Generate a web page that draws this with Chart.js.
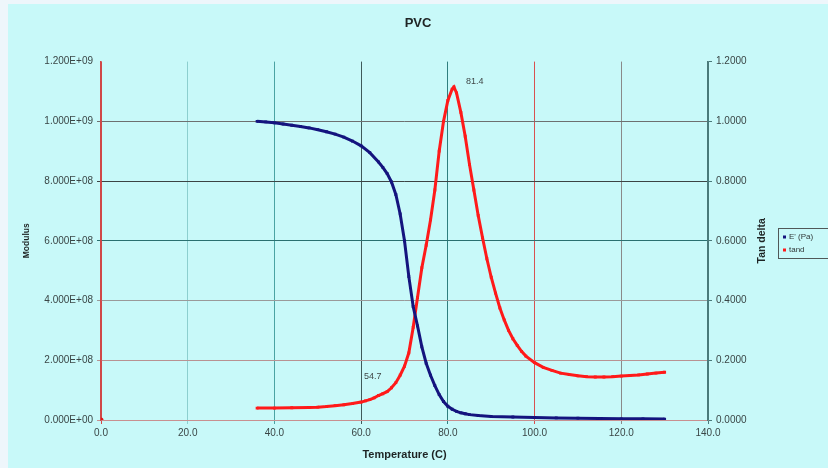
<!DOCTYPE html>
<html>
<head>
<meta charset="utf-8">
<script src="https://cdn.jsdelivr.net/npm/chart.js@4/dist/chart.umd.min.js"></script>
<style>
  html, body { margin: 0; padding: 0; background: #eef6fb; }
  #wrap { width: 828px; height: 468px; position: relative; }
</style>
</head>
<body>
<div id="wrap"><canvas id="pvc"></canvas></div>
<script>
// storage modulus E' (Pa) vs temperature
const tempE = [36, 38, 40, 42, 44, 46, 48, 50, 52, 54, 56, 58, 60, 62, 64, 65, 66, 67, 68, 69, 70, 71, 72, 73, 74, 75, 76, 77, 78, 79, 80, 81, 82, 83, 84, 85, 87, 90, 95, 100, 105, 110, 115, 120, 125, 130];
const modulus = [1.000e9, 0.998e9, 0.995e9, 0.991e9, 0.987e9, 0.983e9, 0.978e9, 0.972e9, 0.965e9, 0.957e9, 0.947e9, 0.934e9, 0.918e9, 0.895e9, 0.864e9, 0.846e9, 0.825e9, 0.797e9, 0.755e9, 0.690e9, 0.600e9, 0.480e9, 0.380e9, 0.315e9, 0.245e9, 0.190e9, 0.150e9, 0.115e9, 0.085e9, 0.062e9, 0.046e9, 0.036e9, 0.029e9, 0.024e9, 0.021e9, 0.018e9, 0.015e9, 0.012e9, 0.010e9, 0.008e9, 0.007e9, 0.006e9, 0.005e9, 0.004e9, 0.004e9, 0.003e9];

// tan delta vs temperature
const tempTan = [36, 40, 44, 48, 50, 52, 54, 56, 58, 60, 61, 62, 63, 64, 65, 66, 67, 68, 69, 70, 71, 72, 73, 74, 75, 76, 77, 78, 79, 80, 81, 81.4, 82, 83, 84, 85, 86, 87, 88, 89, 90, 91, 92, 93, 94, 95, 96, 97, 98, 100, 102, 104, 106, 108, 110, 112, 114, 116, 118, 120, 122, 124, 126, 128, 130];
const tanDelta = [0.040, 0.040, 0.041, 0.042, 0.043, 0.045, 0.048, 0.051, 0.055, 0.060, 0.064, 0.068, 0.074, 0.082, 0.088, 0.095, 0.108, 0.125, 0.150, 0.180, 0.225, 0.310, 0.410, 0.510, 0.585, 0.670, 0.770, 0.900, 1.000, 1.070, 1.108, 1.115, 1.095, 1.030, 0.950, 0.855, 0.770, 0.685, 0.610, 0.540, 0.478, 0.425, 0.375, 0.335, 0.300, 0.272, 0.250, 0.230, 0.214, 0.192, 0.176, 0.166, 0.157, 0.152, 0.148, 0.145, 0.144, 0.144, 0.145, 0.147, 0.149, 0.151, 0.154, 0.157, 0.160];

// stray marker at the origin
const originMark = [{ x: 0, y: 0 }];

// peak / onset labels placed at (temperature, tan delta)
const peakLabels = [
  { text: "54.7", x: 62.7, y: 0.147 },
  { text: "81.4", x: 86.2, y: 1.132 },
];

const xTicks = [0, 20, 40, 60, 80, 100, 120, 140];
const xGridColors = ["#d04848", "#8ccfcf", "#4aa3a3", "#3f5a5a", "#2f7f7f", "#d85050", "#8a8a8a", "#4a7a7a"];
const yGridColors = ["#c89090", "#b89292", "#9a9a9a", "#2a7070", "#3c4444", "#6e7070", "rgba(0,0,0,0)"];

const FONT = "'Liberation Sans', Arial, sans-serif";
const toPts = (xs, ys) => xs.map((x, i) => ({ x: x, y: ys[i] }));

function sci(v) {
  if (v === 0) return "0.000E+00";
  const e = Math.floor(Math.log10(v) + 1e-9);
  const m = v / Math.pow(10, e);
  return m.toFixed(3) + "E+" + String(e).padStart(2, "0");
}

const bgPlugin = {
  id: "bg",
  beforeDraw(chart) {
    const c = chart.ctx;
    c.save();
    c.fillStyle = "#eef6fb";
    c.fillRect(0, 0, chart.width, chart.height);
    c.fillStyle = "#c8f9f9";
    c.fillRect(8, 4, chart.width - 8, chart.height - 4);
    c.restore();
  },
};

const extrasPlugin = {
  id: "extras",
  afterDraw(chart) {
    const c = chart.ctx;
    const xs = chart.scales.x;
    const ys = chart.scales.y1;
    c.save();
    // peak labels
    c.font = "9px " + FONT;
    c.fillStyle = "#404848";
    c.textAlign = "center";
    c.textBaseline = "middle";
    peakLabels.forEach((p) => {
      c.fillText(p.text, xs.getPixelForValue(p.x), ys.getPixelForValue(p.y));
    });
    // right axis title
    c.font = "bold 10.5px " + FONT;
    c.fillStyle = "#1e2424";
    c.translate(762, (chart.chartArea.top + chart.chartArea.bottom) / 2);
    c.rotate(-Math.PI / 2);
    c.fillText("Tan delta", 0, 0);
    c.restore();

    // legend (runs off the right edge like the original)
    c.save();
    c.fillStyle = "#c8f9f9";
    c.strokeStyle = "#505858";
    c.lineWidth = 1;
    c.fillRect(778.5, 228.5, 70, 30);
    c.strokeRect(778.5, 228.5, 70, 30);
    c.font = "8px " + FONT;
    c.textBaseline = "middle";
    c.textAlign = "left";
    chart.data.datasets.slice(0, 2).forEach((ds, i) => {
      const y = 237 + i * 13;
      c.fillStyle = ds.pointBackgroundColor;
      c.fillRect(783, y - 1.5, 3, 3);
      c.fillStyle = "#303838";
      c.fillText(ds.label, 789, y);
    });
    c.restore();
  },
};

new Chart(document.getElementById("pvc"), {
  type: "scatter",
  data: {
    datasets: [
      {
        label: "E' (Pa)",
        data: toPts(tempE, modulus),
        yAxisID: "y",
        showLine: true,
        borderColor: "#14147e",
        borderWidth: 3,
        pointBackgroundColor: "#14147e",
        pointBorderWidth: 0,
        pointRadius: 2,
        pointStyle: "rect",
      },
      {
        label: "tand",
        data: toPts(tempTan, tanDelta),
        yAxisID: "y1",
        showLine: true,
        borderColor: "#ff1a1a",
        borderWidth: 3,
        pointBackgroundColor: "#ff1a1a",
        pointBorderWidth: 0,
        pointRadius: 2,
        pointStyle: "rect",
      },
      {
        label: "origin",
        data: originMark,
        yAxisID: "y1",
        pointBackgroundColor: "#e01818",
        pointBorderWidth: 0,
        pointRadius: 2.5,
      },
    ],
  },
  options: {
    responsive: true,
    maintainAspectRatio: false,
    animation: false,
    layout: { padding: { left: 8, top: 0, right: 0, bottom: 0 } },
    plugins: {
      legend: { display: false },
      tooltip: { enabled: false },
      title: {
        display: true,
        text: "PVC",
        color: "#202626",
        font: { family: FONT, size: 13, weight: "bold" },
        padding: { top: 16, bottom: 30 },
      },
    },
    scales: {
      x: {
        type: "linear",
        min: 0,
        max: 140,
        afterBuildTicks: (s) => { s.ticks = xTicks.map((v) => ({ value: v })); },
        afterFit: (s) => { s.height = 48; },
        ticks: {
          callback: (v) => Number(v).toFixed(1),
          color: "#3a4646",
          font: { family: FONT, size: 10 },
          padding: 3,
          maxRotation: 0,
        },
        grid: {
          color: (ctx) => xGridColors[ctx.index] || "#808080",
          lineWidth: 1,
          tickLength: 4,
        },
        border: { color: "#c89090", width: 1 },
        title: {
          display: true,
          text: "Temperature (C)",
          color: "#1e2424",
          font: { family: FONT, size: 11, weight: "bold" },
          padding: { top: 6, bottom: 6 },
        },
      },
      y: {
        position: "left",
        min: 0,
        max: 1.2e9,
        ticks: {
          stepSize: 2e8,
          callback: (v) => sci(v),
          color: "#3a4646",
          font: { family: FONT, size: 10 },
          padding: 4,
        },
        afterFit: (s) => { s.width = 93; },
        grid: {
          color: (ctx) => yGridColors[ctx.index] || "#808080",
          lineWidth: 1,
          tickLength: 4,
        },
        border: { color: "#d04848", width: 1.5 },
        title: {
          display: true,
          text: "Modulus",
          color: "#1e2424",
          font: { family: FONT, size: 8.5, weight: "bold" },
          padding: { top: 14, bottom: 0 },
        },
      },
      y1: {
        position: "right",
        min: 0,
        max: 1.2,
        ticks: {
          stepSize: 0.2,
          callback: (v) => Number(v).toFixed(4),
          color: "#3a4646",
          font: { family: FONT, size: 10 },
          padding: 4,
        },
        afterFit: (s) => { s.width = 120; },
        grid: { drawOnChartArea: false, color: "#4a7a7a", tickLength: 4 },
        border: { color: "#4a7a7a", width: 1.5 },
      },
    },
  },
  plugins: [bgPlugin, extrasPlugin],
});
</script>
</body>
</html>
